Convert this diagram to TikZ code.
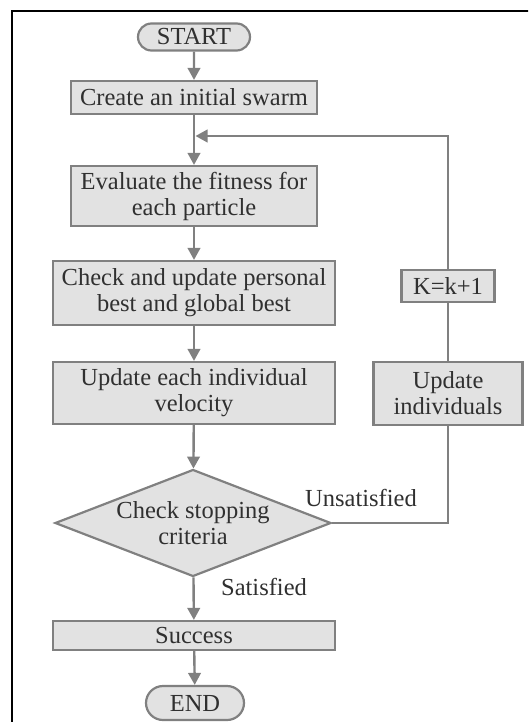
\documentclass[tikz,border=0pt]{standalone}
\usepackage{fontspec}
\setmainfont{Liberation Serif}
\usetikzlibrary{shapes.geometric,shapes.misc,arrows.meta}
\definecolor{boxfill}{HTML}{E2E2E2}
\definecolor{boxline}{HTML}{808080}
\definecolor{txtcol}{HTML}{303030}
\begin{document}
\begin{tikzpicture}[x=1pt,y=-1pt,
  every node/.style={font=\fontsize{24.5}{26}\selectfont, text=txtcol},
  procbox/.style={draw=boxline, fill=boxfill, line width=2.2pt, inner sep=0pt, align=center, rectangle},
  termbox/.style={procbox, rounded rectangle},
  decbox/.style={procbox, diamond, aspect=2.58},
  flow/.style={draw=boxline, line width=2.4pt, -{Triangle[length=12pt,width=12.5pt]}},
  link/.style={draw=boxline, line width=2.4pt},
  lbl/.style={inner sep=0pt}
]
\useasboundingbox (0,0) rectangle (528,722);
\begin{scope}
\clip (0,0) rectangle (528,722);
\draw[line width=2pt] (12,11) rectangle (560,760);
\end{scope}
\node[termbox, minimum width=112, minimum height=27] (start) at (194,37) {START};
\node[procbox, minimum width=246, minimum height=33] (create) at (194,97.5) {Create an initial swarm};
\node[procbox, minimum width=246, minimum height=60] (eval) at (194,196) {Evaluate the fitness for\\each particle};
\node[procbox, minimum width=282, minimum height=64] (check) at (194,293) {Check and update personal\\best and global best};
\node[procbox, minimum width=282, minimum height=62] (upvel) at (194,393) {Update each individual\\velocity};
\node[decbox, minimum width=276, minimum height=107] (decide) at (193,523) {Check stopping\\criteria};
\node[procbox, minimum width=282, minimum height=29] (success) at (194,635.5) {Success};
\node[termbox, minimum width=98, minimum height=34] (end) at (195,703) {END};
\node[procbox, minimum width=93, minimum height=32] (kbox) at (448,286) {K=k+1};
\node[procbox, minimum width=149, minimum height=63] (upind) at (448,393.5) {Update\\individuals};
\node[lbl] (unsat) at (361,498) {Unsatisfied};
\node[lbl] (sat) at (264,587) {Satisfied};
\coordinate (merge) at (195.5,136);
\coordinate (c1) at (448,523);
\coordinate (c2) at (448,136);
\draw[flow] (start) -- (create);
\draw[flow] (create) -- (eval);
\draw[flow] (eval) -- (check);
\draw[flow] (check) -- (upvel);
\draw[flow] (upvel) -- (decide);
\draw[flow] (decide) -- (success);
\draw[flow] (success) -- (end);
\draw[link] (decide.east) -- (c1) -- (upind.south);
\draw[link] (upind.north) -- (kbox.south);
\draw[flow] (kbox.north) -- (c2) -- (merge);
\end{tikzpicture}
\end{document}
